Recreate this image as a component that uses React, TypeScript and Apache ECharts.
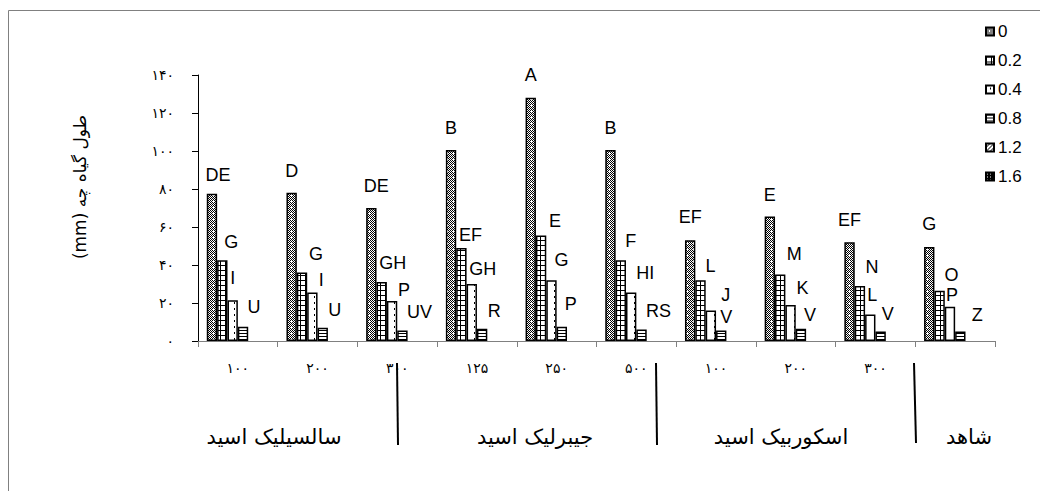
import React, { useEffect, useRef } from 'react';
import * as echarts from 'echarts';

// ---------- data ----------
const CATEGORIES = ['۱۰۰', '۲۰۰', '۳۰۰', '۱۲۵', '۲۵۰', '۵۰۰', '۱۰۰', '۲۰۰', '۳۰۰', ''];
const GROUPS = ['سالسیلیک اسید', 'جیبرلیک اسید', 'اسکوربیک اسید', 'شاهد'];
const SERIES_NAMES = ['0', '0.2', '0.4', '0.8', '1.2', '1.6'];
const Y_TITLE = 'طول گیاه چه (mm)';

const V_0 = [77.5, 78, 70, 100.5, 128, 100.5, 53, 65.5, 52, 49.5];
const V_02 = [42.5, 36, 31, 49, 55.5, 42.5, 32, 35, 29, 26.5];
const V_04 = [21.5, 25.5, 21, 30, 32, 25.5, 16, 19, 14, 18];
const V_08 = [7.5, 7, 5.5, 6.5, 7.5, 6, 5.5, 6.5, 5, 5];
const V_12 = [0, 0, 0, 0, 0, 0, 0, 0, 0, 0];
const V_16 = [0, 0, 0, 0, 0, 0, 0, 0, 0, 0];

const L_0 = ['DE', 'D', 'DE', 'B', 'A', 'B', 'EF', 'E', 'EF', 'G'];
const L_02 = ['G', 'G', 'GH', 'EF', 'E', 'F', 'L', 'M', 'N', 'O'];
const L_04 = ['I', 'I', 'P', 'GH', 'G', 'HI', 'J', 'K', 'L', 'P'];
const L_08 = ['U', 'U', 'UV', 'R', 'P', 'RS', 'V', 'V', 'V', 'Z'];

const Y_DIGITS = '۰۱۲۳۴۵۶۷۸۹';

// ---------- label placement (styling) ----------
const LABEL_DX = [
  [6, 0, 5, 0, 0, 0, 0, 0, 0, 0],
  [9, 14, 11, 9, 14, 10, 10, 14, 12, 12],
  [0, 9, 12, 11, 10, 14, 15, 12, 2, 2],
  [11, 12, 17, 12, 9, 17, 5, 9, 7, 17],
];
const LABEL_RISE = [
  [19, 22, 22, 22, 23, 22, 23, 22, 22, 23],
  [18, 19, 19, 13, 15, 19, 14, 21, 19, 16],
  [22, 13, 11, 15, 20, 20, 16, 17, 19, 12],
  [20, 18, 19, 18, 23, 19, 14, 14, 18, 17],
];

function toFa(s: string) {
  return s.replace(/\d/g, (d) => Y_DIGITS[+d]);
}

function tile(w: number, h: number, draw: (ctx: CanvasRenderingContext2D) => void) {
  const c = document.createElement('canvas');
  c.width = w;
  c.height = h;
  const ctx = c.getContext('2d') as CanvasRenderingContext2D;
  ctx.fillStyle = '#fff';
  ctx.fillRect(0, 0, w, h);
  ctx.fillStyle = '#000';
  draw(ctx);
  return { image: c.toDataURL(), repeat: 'repeat', imageWidth: w, imageHeight: h } as any;
}

function makePatterns() {
  const p0 = tile(6, 6, (ctx) => {
    for (let y = 0; y < 6; y++) for (let x = 0; x < 6; x++) if ((x + y) % 2 === 0) ctx.fillRect(x, y, 1, 1);
    ctx.fillStyle = '#fff';
    ctx.fillRect(3, 2, 1, 3);
    ctx.fillRect(2, 3, 3, 1);
  });
  const p1 = tile(5, 5, (ctx) => {
    ctx.fillRect(0, 0, 5, 1);
    ctx.fillRect(0, 0, 1, 5);
  });
  const p2 = tile(10, 6, (ctx) => {
    ctx.fillRect(4, 2, 1, 2);
  });
  const p3 = tile(1, 3, (ctx) => {
    ctx.fillRect(0, 0, 1, 1);
  });
  const p4 = tile(4, 4, (ctx) => {
    for (let i = 0; i < 4; i++) ctx.fillRect(i, 3 - i, 1, 1);
  });
  const p5 = tile(3, 3, (ctx) => {
    ctx.fillRect(0, 0, 3, 3);
    ctx.fillStyle = '#fff';
    ctx.fillRect(1, 1, 1, 1);
  });
  return [p0, p1, p2, p3, p4, p5];
}

export default function App() {
  const ref = useRef<HTMLDivElement>(null);

  useEffect(() => {
    if (!ref.current) return;
    const chart = echarts.init(ref.current, undefined, { renderer: 'svg' });
    const patterns = makePatterns();
    const values = [V_0, V_02, V_04, V_08, V_12, V_16];
    const letters = [L_0, L_02, L_04, L_08, null, null];

    const series = SERIES_NAMES.map((name, si) => ({
      name,
      type: 'bar',
      barGap: '0%',
      barCategoryGap: '22%',
      itemStyle: { color: patterns[si], borderColor: '#000', borderWidth: 1.5 },
      emphasis: { disabled: true },
      data: values[si].map((v, i) => {
        const lab = letters[si];
        if (v === 0) return null;
        return {
          value: v,
          label: lab
            ? {
                show: true,
                position: 'top',
                distance: 5,
                formatter: lab[i],
                offset: [LABEL_DX[si][i], -(LABEL_RISE[si][i] - 14)],
                fontFamily: '"Liberation Sans", Arial, sans-serif',
                fontSize: 18,
                color: '#000',
              }
            : { show: false },
        };
      }),
    }));

    const persian = '"DejaVu Sans", sans-serif';
    const lineStyle = { stroke: '#000', lineWidth: 2 };
    const option: any = {
      animation: false,
      backgroundColor: '#fff',
      grid: { left: 198, right: 45, top: 75, bottom: 150, containLabel: false },
      legend: {
        orient: 'vertical',
        left: 985,
        top: 23,
        padding: 0,
        itemWidth: 8,
        itemHeight: 8,
        itemGap: 12,
        icon: 'rect',
        textStyle: { fontFamily: '"Liberation Sans", Arial, sans-serif', fontSize: 17, lineHeight: 17, color: '#000', padding: [0, 0, 0, -1] },
        data: SERIES_NAMES,
        selectedMode: false,
      },
      xAxis: {
        type: 'category',
        data: CATEGORIES,
        axisLine: { lineStyle: { color: '#808080', width: 1 } },
        axisTick: { show: true, alignWithLabel: false, length: 6, lineStyle: { color: '#808080' } },
        axisLabel: { color: '#000', fontFamily: persian, fontSize: 14, margin: 20, interval: 0 },
        splitLine: { show: false },
      },
      yAxis: {
        type: 'value',
        min: 0,
        max: 140,
        interval: 20,
        axisLine: { show: true, lineStyle: { color: '#000', width: 1 } },
        axisTick: { show: true, length: 6, lineStyle: { color: '#000' } },
        axisLabel: {
          color: '#000',
          fontFamily: persian,
          fontSize: 14,
          margin: 24,
          formatter: (v: number) => toFa(String(v)),
        },
        splitLine: { show: false },
      },
      graphic: [
        {
          type: 'rect',
          shape: { x: 8.5, y: 10.5, width: 1200, height: 700 },
          style: { fill: 'none', stroke: '#808080', lineWidth: 1 },
          silent: true,
        },
        {
          type: 'text',
          x: 80,
          y: 187,
          rotation: Math.PI / 2,
          style: {
            text: '\u202B' + Y_TITLE + '\u202C',
            font: '17px "DejaVu Sans", sans-serif',
            fill: '#000',
            align: 'center',
            verticalAlign: 'middle',
          },
        },
        { type: 'line', shape: { x1: 397, y1: 363, x2: 398, y2: 445 }, style: lineStyle },
        { type: 'line', shape: { x1: 656, y1: 363, x2: 657, y2: 445 }, style: lineStyle },
        { type: 'line', shape: { x1: 914, y1: 363, x2: 916, y2: 443 }, style: lineStyle },
        ...GROUPS.map((g, i) => ({
          type: 'text',
          x: [274, 535, 781, 969][i],
          y: 437,
          style: {
            text: g,
            font: '21px "DejaVu Sans", sans-serif',
            fill: '#000',
            align: 'center',
            verticalAlign: 'middle',
          },
        })),
      ],
      series,
    };
    chart.setOption(option);
    return () => chart.dispose();
  }, []);

  return <div ref={ref} style={{ position: 'fixed', left: 0, top: 0, width: 1040, height: 491, background: '#fff' }} />;
}
